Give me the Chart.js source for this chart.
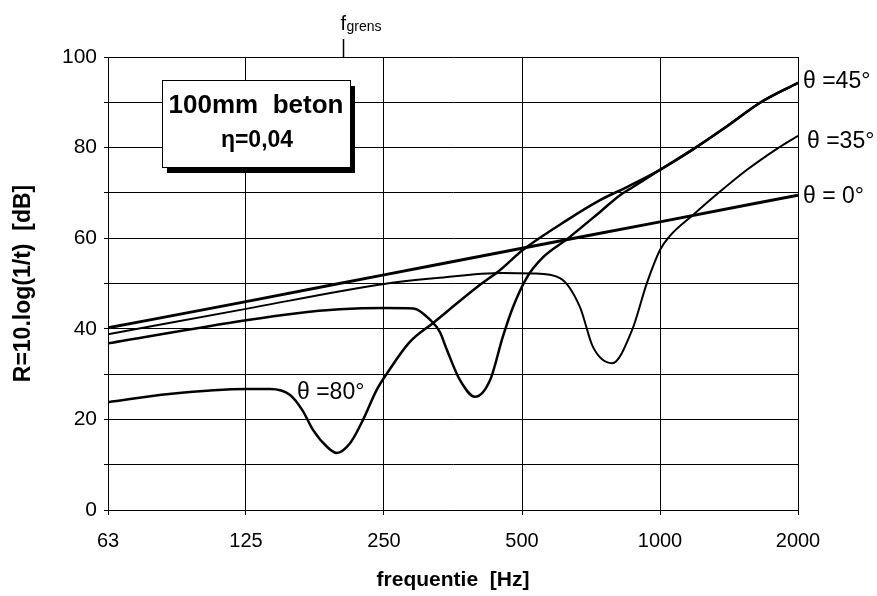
<!DOCTYPE html>
<html>
<head>
<meta charset="utf-8">
<script src="https://cdn.jsdelivr.net/npm/chart.js@4.4.0/dist/chart.umd.min.js"></script>
<style>
  html, body { margin: 0; padding: 0; background: #fff; }
  #wrap { width: 877px; height: 596px; }
</style>
</head>
<body>
<div id="wrap"><canvas id="chart" width="877" height="596"></canvas></div>
<script>
// octave band ticks and the labels printed under them
const tickFreqs = [62.5, 125, 250, 500, 1000, 2000];
const tickLabels = ['63', '125', '250', '500', '1000', '2000'];

// theta = 0 (normal incidence)
const freq0 = [62.5, 125, 250, 500, 1000, 2000];
const r0 = [40.2, 46.0, 51.9, 57.8, 63.6, 69.5];

// theta = 35
const freq35 = [62.5, 125, 250, 326, 454, 530, 605, 669, 714, 786, 869, 937, 1000, 1051, 1180, 1338, 1548, 1809, 2000];
const r35 = [38.8, 44.4, 49.9, 51.2, 52.3, 52.2, 51.2, 44.8, 36.0, 32.4, 39.7, 50.2, 57.4, 60.5, 65.1, 69.9, 75.1, 79.9, 82.6];

// theta = 45
const freq45 = [62.5, 125, 160, 200, 250, 290, 315, 331, 343, 366, 395, 426, 454, 478, 513, 556, 627, 740, 818, 873, 1000, 1180, 1400, 1653, 2000];
const r45 = [36.8, 41.9, 43.4, 44.3, 44.6, 44.5, 42.0, 39.3, 35.3, 28.7, 25.0, 28.7, 38.2, 44.8, 51.4, 55.8, 59.8, 65.8, 69.5, 71.3, 75.1, 79.6, 84.7, 89.9, 94.3];

// theta = 80
const freq80 = [62.5, 85, 125, 141, 156, 166, 175, 188, 197, 211, 225, 241, 254, 284, 320, 405, 448, 502, 627, 740, 847, 1000, 1180, 1400, 1653, 2000];
const r80 = [23.8, 25.6, 26.7, 26.7, 25.4, 22.0, 17.7, 13.9, 12.6, 14.8, 19.9, 26.5, 30.2, 37.0, 41.3, 49.7, 53.0, 57.4, 64.0, 68.4, 71.3, 75.1, 79.6, 84.7, 89.9, 94.3];

// coincidence (grens) frequency marker
const fGrens = 204;

const FONT = '"Liberation Sans", Arial, Helvetica, sans-serif';

function pts(f, r) {
  return f.map((v, i) => ({ x: v, y: r[i] }));
}

function line(data, width) {
  return {
    data: data,
    borderColor: '#000',
    borderWidth: width,
    pointRadius: 0,
    fill: false,
    cubicInterpolationMode: 'monotone'
  };
}

// text box, f_grens marker and curve names
const overlay = {
  id: 'overlay',
  afterDraw(chart) {
    const ctx = chart.ctx;
    const xs = chart.scales.x;
    const ys = chart.scales.y;
    ctx.save();
    ctx.fillStyle = '#000';
    ctx.strokeStyle = '#000';

    // f_grens
    const gx = xs.getPixelForValue(fGrens);
    ctx.lineWidth = 1.5;
    ctx.beginPath();
    ctx.moveTo(gx, ys.top - 18);
    ctx.lineTo(gx, ys.top);
    ctx.stroke();
    ctx.textAlign = 'left';
    ctx.textBaseline = 'alphabetic';
    ctx.font = '20px ' + FONT;
    ctx.fillText('f', gx - 3, 30);
    ctx.font = '14px ' + FONT;
    ctx.fillText('grens', gx + 3, 31);

    // box with shadow
    const bx = 162, by = 80, bw = 188, bh = 87;
    ctx.fillRect(bx + 5, by + 6, bw, bh);
    ctx.fillStyle = '#fff';
    ctx.fillRect(bx, by, bw, bh);
    ctx.lineWidth = 1;
    ctx.strokeRect(bx + 0.5, by + 0.5, bw, bh);
    ctx.fillStyle = '#000';
    ctx.textAlign = 'center';
    ctx.textBaseline = 'middle';
    ctx.font = 'bold 26px ' + FONT;
    ctx.fillText('100mm  beton', bx + 94, by + 26);
    ctx.font = 'bold 23px ' + FONT;
    ctx.fillText('\u03B7=0,04', bx + 95, by + 61);

    // curve names
    ctx.textAlign = 'left';
    ctx.font = '23px ' + FONT;
    ctx.fillText('\u03B8 =45\u00B0', xs.right + 5, 82);
    ctx.fillText('\u03B8 =35\u00B0', xs.right + 9, 142);
    ctx.fillText('\u03B8 = 0\u00B0', xs.right + 5, 197);
    ctx.fillText('\u03B8 =80\u00B0', 297, 393);
    ctx.restore();
  }
};

new Chart(document.getElementById('chart'), {
  type: 'line',
  data: {
    datasets: [
      line(pts(freq0, r0), 3),
      line(pts(freq35, r35), 2),
      line(pts(freq45, r45), 2.5),
      line(pts(freq80, r80), 2.5)
    ]
  },
  options: {
    responsive: false,
    animation: false,
    devicePixelRatio: 1,
    layout: { padding: { top: 57, right: 79, left: 0, bottom: 0 } },
    plugins: { legend: { display: false }, tooltip: { enabled: false } },
    scales: {
      x: {
        type: 'logarithmic',
        min: 62.5,
        max: 2000,
        afterBuildTicks: (scale) => {
          scale.ticks = tickFreqs.map(v => ({ value: v }));
        },
        afterFit: (scale) => { scale.height = 86; },
        grid: { color: '#000', lineWidth: 1, tickLength: 5, drawTicks: true },
        border: { color: '#000', width: 1 },
        ticks: {
          color: '#000',
          font: { family: FONT, size: 20 },
          padding: 14,
          maxRotation: 0,
          autoSkip: false,
          callback: (v, i) => tickLabels[i]
        },
        title: {
          display: true,
          text: 'frequentie  [Hz]',
          color: '#000',
          font: { family: FONT, size: 21, weight: 'bold' },
          padding: { top: 0, bottom: 3 }
        }
      },
      y: {
        min: 0,
        max: 100,
        afterFit: (scale) => { scale.width = 108; },
        grid: { color: '#000', lineWidth: 1, tickLength: 4, drawTicks: true },
        border: { color: '#000', width: 1 },
        ticks: {
          stepSize: 10,
          color: '#000',
          font: { family: FONT, size: 21 },
          padding: 7,
          callback: (v) => (v % 20 === 0 ? v : '')
        },
        title: {
          display: true,
          text: 'R=10.log(1/t)  [dB]',
          color: '#000',
          font: { family: FONT, size: 23, weight: 'bold' },
          padding: { top: 10, bottom: 0 }
        }
      }
    }
  },
  plugins: [overlay]
});
</script>
</body>
</html>
